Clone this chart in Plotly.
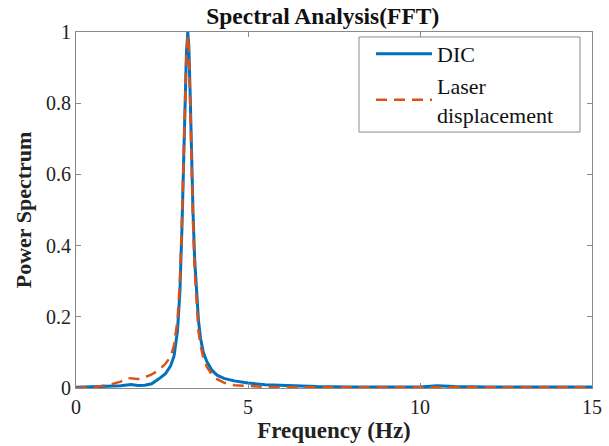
import plotly.graph_objects as go

# Frequency (Hz) and normalized power spectrum values
freq_dic = [0, 0.5, 1.0, 1.3, 1.6, 1.8, 2.0, 2.2, 2.4, 2.6, 2.75, 2.85, 2.95, 3.02, 3.08,
            3.13, 3.17, 3.21, 3.25, 3.28, 3.32, 3.36, 3.40, 3.45, 3.51, 3.56, 3.62, 3.70,
            3.80, 3.95, 4.1, 4.3, 4.6, 5.0, 5.5, 6.0, 7.0, 8.0, 9.0, 10.0, 10.5, 11.0,
            12.0, 13.0, 14.0, 15.0]
power_dic = [0.002, 0.003, 0.004, 0.006, 0.010, 0.007, 0.008, 0.012, 0.025, 0.040, 0.062,
             0.09, 0.16, 0.27, 0.45, 0.64, 0.80, 0.94, 1.00, 0.96, 0.82, 0.64, 0.50, 0.36,
             0.25, 0.19, 0.14, 0.10, 0.075, 0.05, 0.036, 0.027, 0.020, 0.014, 0.009, 0.007,
             0.004, 0.003, 0.003, 0.003, 0.006, 0.004, 0.003, 0.004, 0.003, 0.003]

freq_laser = [0, 0.5, 1.0, 1.3, 1.5, 1.8, 2.0, 2.2, 2.4, 2.6, 2.75, 2.85, 2.95, 3.02, 3.08,
              3.13, 3.17, 3.21, 3.25, 3.28, 3.32, 3.36, 3.40, 3.45, 3.51, 3.56, 3.62, 3.70,
              3.80, 3.95, 4.1, 4.3, 4.6, 5.0, 5.5, 6.0, 7.0, 8.0, 9.0, 10.0, 11.0, 12.0,
              13.0, 14.0, 15.0]
power_laser = [0.0, 0.002, 0.010, 0.018, 0.028, 0.025, 0.030, 0.038, 0.050, 0.068, 0.088,
               0.12, 0.19, 0.30, 0.47, 0.66, 0.81, 0.94, 0.99, 0.95, 0.80, 0.62, 0.47, 0.33,
               0.22, 0.16, 0.12, 0.085, 0.06, 0.038, 0.025, 0.015, 0.008, 0.005, 0.003,
               0.002, 0.002, 0.002, 0.002, 0.002, 0.002, 0.002, 0.002, 0.002, 0.002]

x_ticks = [0, 5, 10, 15]
y_ticks = [0, 0.2, 0.4, 0.6, 0.8, 1]
y_tick_text = ["0", "0.2", "0.4", "0.6", "0.8", "1"]

SERIF = '"Times New Roman", "Liberation Serif", serif'

fig = go.Figure()
fig.add_trace(go.Scatter(x=freq_dic, y=power_dic, mode="lines", name="DIC",
                         line=dict(color="#0072BD", width=3)))
fig.add_trace(go.Scatter(x=freq_laser, y=power_laser, mode="lines",
                         name="Laser<br>displacement",
                         line=dict(color="#D95319", width=2.5, dash="11px,7px")))

axis_common = dict(showgrid=False, zeroline=False, showline=True, linecolor="#8a8a8a",
                   linewidth=1, mirror="ticks", ticks="inside", ticklen=5,
                   tickcolor="#8a8a8a", automargin=False,
                   tickfont=dict(family=SERIF, size=20, color="#222"))

# legend frame drawn as a paper-anchored rectangle
fig.add_shape(type="rect", xref="paper", yref="paper",
              x0=0.5484, x1=0.9767, y0=0.719, y1=0.986,
              line=dict(color="#8a8a8a", width=1), fillcolor="white", layer="above")

fig.update_layout(
    width=609, height=446,
    margin=dict(l=76, r=17, t=32, b=58),
    font=dict(family=SERIF, color="#222"),
    paper_bgcolor="white", plot_bgcolor="white",
    title=dict(text="<b>Spectral Analysis(FFT)</b>", x=0.530, xanchor="center",
               y=1 - 16 / 446, yanchor="middle",
               font=dict(family=SERIF, size=23.5, color="#111")),
    xaxis=dict(range=[0, 15], tickvals=x_ticks, ticklabelstandoff=1, **axis_common,
               title=dict(text="<b>Frequency (Hz)</b>", standoff=3,
                          font=dict(family=SERIF, size=23, color="#222"))),
    yaxis=dict(range=[0, 1], tickvals=y_ticks, ticktext=y_tick_text, **axis_common,
               title=dict(text="<b>Power Spectrum</b>", standoff=8,
                          font=dict(family=SERIF, size=22, color="#222"))),
    legend=dict(x=0.5717, y=0.997, xanchor="left", yanchor="top",
                bgcolor="rgba(0,0,0,0)", borderwidth=0,
                font=dict(family=SERIF, size=22, color="#111"),
                itemwidth=56),
    showlegend=True,
)

fig.write_html("out.html", config={"displayModeBar": False},
               post_script="document.body.style.margin='0';")
